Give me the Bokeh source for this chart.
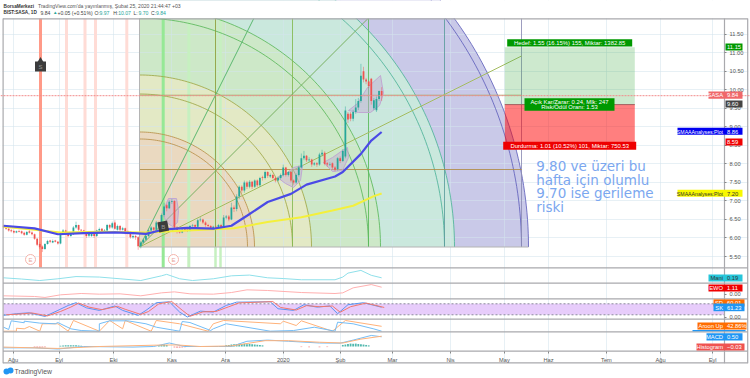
from bokeh.plotting import figure
from bokeh.models import Range1d, FixedTicker, Span
from bokeh.core.properties import value
from bokeh.embed import file_html
from bokeh.resources import INLINE
import numpy as np

# ---- price data ----
opens = [6.33,6.29,6.25,6.21,6.19,6.15,6.19,6.18,6.14,6.09,
 6.18,6.15,6.10,5.98,5.84,5.77,5.70,5.84,5.93,5.88,
 5.93,5.90,5.85,6.13,6.20,6.13,6.05,6.10,6.28,6.35,
 6.22,6.20,6.15,6.06,6.05,6.14,6.05,6.20,6.25,6.18,
 6.20,6.35,6.28,6.42,6.22,6.32,6.22,6.26,6.18,6.15,
 6.02,6.05,6.02,5.78,5.88,5.95,6.05,6.20,6.28,6.22,
 6.42,6.36,6.62,6.88,6.80,6.98,7.00,6.28,6.18,6.15,
 6.24,6.22,6.20,6.32,6.35,6.30,6.48,6.50,6.42,6.35,
 6.32,6.25,6.30,6.27,6.35,6.27,6.55,6.58,6.50,6.82,
 6.78,7.12,7.38,7.28,7.50,7.38,7.52,7.38,7.55,7.42,
 7.64,7.62,7.78,7.66,7.70,7.62,7.55,7.62,7.70,7.90,
 7.70,7.78,7.55,7.50,7.70,7.90,8.15,8.22,8.10,8.12,
 7.98,8.02,7.98,8.25,8.30,8.02,7.98,8.02,7.90,7.86,
 8.15,8.08,8.20,9.35,9.35,9.22,9.40,9.52,9.70,10.50,
 10.28,10.22,10.30,9.50,9.45,9.75,9.97]
closes = [6.29,6.25,6.20,6.18,6.15,6.18,6.17,6.13,6.09,6.16,
 6.14,6.10,5.98,5.82,5.75,5.70,5.84,5.92,5.90,5.92,
 5.90,5.85,6.12,6.20,6.12,6.05,6.10,6.28,6.35,6.22,
 6.20,6.15,6.05,6.12,6.13,6.05,6.20,6.24,6.18,6.20,
 6.35,6.28,6.40,6.25,6.32,6.22,6.26,6.15,6.15,6.02,
 6.05,6.02,5.78,5.88,5.95,6.05,6.20,6.28,6.22,6.42,
 6.36,6.62,6.85,6.80,6.98,7.00,6.28,6.18,6.15,6.22,
 6.22,6.20,6.32,6.34,6.30,6.48,6.50,6.42,6.35,6.32,
 6.25,6.30,6.27,6.35,6.27,6.55,6.58,6.50,6.82,6.78,
 7.12,7.38,7.28,7.50,7.38,7.52,7.38,7.55,7.42,7.62,
 7.62,7.78,7.68,7.70,7.62,7.55,7.62,7.70,7.90,7.70,
 7.78,7.55,7.50,7.70,7.90,8.15,8.22,8.10,8.12,7.98,
 8.02,7.98,8.25,8.30,8.00,7.98,8.00,7.90,7.84,8.15,
 8.08,8.35,9.44,9.20,9.22,9.40,9.52,9.70,10.38,10.28,
 10.22,10.10,9.70,9.72,9.75,9.97,9.84]
highs = [6.35,6.32,6.27,6.24,6.22,6.20,6.22,6.20,6.17,6.19,
 6.24,6.18,6.12,6.00,5.88,5.80,5.86,5.95,5.95,5.96,
 5.95,5.92,6.15,6.24,6.22,6.15,6.14,6.32,6.44,6.36,
 6.24,6.22,6.18,6.15,6.18,6.16,6.22,6.28,6.27,6.24,
 6.38,6.38,6.44,6.48,6.36,6.35,6.30,6.28,6.20,6.18,
 6.10,6.08,6.05,5.92,5.98,6.08,6.23,6.32,6.30,6.46,
 6.45,6.66,6.95,6.92,7.02,7.05,7.02,6.32,6.22,6.26,
 6.28,6.25,6.35,6.38,6.37,6.52,6.56,6.52,6.45,6.38,
 6.35,6.33,6.33,6.38,6.38,6.62,6.62,6.62,6.95,6.88,
 7.18,7.42,7.42,7.55,7.54,7.56,7.54,7.58,7.58,7.65,
 7.68,7.82,7.80,7.74,7.73,7.65,7.66,7.74,7.98,7.92,
 7.80,7.80,7.58,7.74,7.95,8.28,8.35,8.24,8.18,8.14,
 8.05,8.05,8.30,8.38,8.34,8.05,8.04,8.04,7.94,8.18,
 8.20,8.40,9.55,9.40,9.40,9.46,9.75,9.78,10.70,10.62,
 10.32,10.25,10.32,9.78,9.82,9.98,10.07]
lows = [6.26,6.22,6.17,6.15,6.12,6.13,6.15,6.10,6.06,6.07,
 6.12,6.07,5.95,5.78,5.70,5.62,5.68,5.82,5.86,5.86,
 5.88,5.82,5.83,6.10,6.08,6.02,6.03,6.08,6.25,6.18,
 6.18,6.12,6.00,6.02,6.03,6.00,6.03,6.18,6.15,6.16,
 6.18,6.24,6.25,6.22,6.20,6.18,6.20,6.10,6.10,5.98,
 5.98,5.95,5.68,5.72,5.85,5.92,6.03,6.18,6.18,6.20,
 6.32,6.33,6.58,6.72,6.78,6.92,6.24,6.12,6.12,6.13,
 6.18,6.16,6.18,6.30,6.26,6.28,6.44,6.38,6.30,6.28,
 6.22,6.23,6.24,6.25,6.24,6.25,6.50,6.45,6.48,6.70,
 6.72,7.05,7.22,7.22,7.32,7.34,7.32,7.35,7.38,7.38,
 7.55,7.58,7.62,7.62,7.58,7.50,7.52,7.58,7.66,7.66,
 7.66,7.50,7.44,7.46,7.66,7.88,8.10,8.05,8.05,7.92,
 7.95,7.92,7.95,8.20,7.96,7.92,7.94,7.85,7.80,7.82,
 8.02,8.05,8.15,9.10,9.15,9.15,9.35,9.45,9.65,10.20,
 10.15,10.05,9.60,9.45,9.40,9.70,9.70]

sma_fast_i = [0,12,21,31,43,50,55,62,71,81,88,94,102,111,117,128,131,138,142,146]
sma_fast_v = [6.33,6.26,6.10,6.13,6.15,6.13,6.11,6.23,6.27,6.25,6.33,6.60,6.97,7.19,7.44,7.66,7.78,8.27,8.63,8.86]
sma_slow_i = [0,12,22,37,55,71,89,102,115,127,135,143,146]
sma_slow_v = [6.30,6.22,6.15,6.17,6.15,6.20,6.26,6.43,6.56,6.74,6.87,7.13,7.20]

mani_i = [0,7,14,21,28,37,45,53,61,63,68,73,81,88,95,102,108,115,128,131,133,138,142,146]
mani_v = [0.19,0.14,0.08,0.15,0.24,0.22,0.15,0.08,0.27,0.33,0.15,0.08,0.15,0.27,0.30,0.19,0.16,0.11,0.11,0.22,0.38,0.49,0.29,0.19]
ewo_i = [0,12,16,22,30,37,45,53,61,66,72,81,88,94,102,115,128,131,135,142,146]
ewo_v = [-0.20,-0.30,-0.45,-0.05,0.15,0.05,0.10,-0.20,0.25,0.40,0.10,0.05,0.30,0.71,0.61,0.30,0.15,0.25,1.01,1.51,1.11]
sk_i = [0,5,10,16,21,25,28,32,37,43,46,52,55,59,64,68,71,76,81,86,90,103,106,112,116,121,126,129,133,139,146]
sk_v = [17,26,31,11,44,71,86,58,44,68,44,17,44,86,91,35,8,40,35,71,89,91,53,44,75,62,68,26,75,86,61.23]
sd_v = [20,24,30,14,38,62,84,62,48,66,50,22,38,80,92,45,12,36,38,64,85,92,60,46,70,64,68,34,64,84,60]
aroon_up_i = [0,5,5,8,10,14,15,21,25,27,37,41,46,47,57,59,68,79,81,85,107,108,113,115,127,132,146]
aroon_up_v = [0,0,26,21,41,0,65,65,0,94,0,94,21,94,0,94,65,0,65,94,65,88,50,91,0,94,42.86]
aroon_dn_i = [0,2,3,8,8,14,20,21,26,30,37,37,41,48,55,59,68,69,72,80,81,86,103,112,120,128,129,135,143,146]
aroon_dn_v = [35,15,91,74,88,71,65,76,21,6,0,65,91,91,65,35,0,85,76,6,21,65,0,6,35,0,79,65,20,0]
macd_i = [0,12,21,31,50,58,64,70,83,88,94,102,110,122,130,135,142,146]
macd_v = [-0.07,-0.07,-0.13,0,-0.03,0,0.18,0,0,0,0.27,0.33,0.27,0.18,0.17,0.33,0.57,0.50]
signal_i = [0,21,37,59,67,76,88,101,110,122,131,138,146]
signal_v = [-0.03,-0.10,0,0.07,0.08,0,0.03,0.30,0.30,0.22,0.18,0.38,0.53]
hist_up_i = [22,23,24,25,26,27,28,29,30,60,61,62,63,86,87,88,89,90,91,92,93,94,95,96,97,98,99,100,131,132,133,134,135,136,137,138,139,140,141]
hist_up_v = [0.04,0.05,0.06,0.07,0.07,0.06,0.06,0.05,0.04,0.06,0.08,0.10,0.08,0.06,0.08,0.10,0.12,0.13,0.14,0.13,0.14,0.12,0.13,0.11,0.10,0.09,0.08,0.06,0.08,0.10,0.13,0.15,0.14,0.15,0.13,0.12,0.10,0.08,0.06]
hist_dn_i = [12,13,14,15,16,66,67,68,69,70,115,118,122,125]
hist_dn_v = [-0.05,-0.06,-0.06,-0.05,-0.04,-0.05,-0.07,-0.06,-0.05,-0.04,-0.03,-0.04,-0.04,-0.03]

price_ticks = [5.5,6.0,6.5,7.0,7.5,8.0,8.5,9.0,9.5,10.0,10.5,11.0,11.5]
zero_ticks = [4.475, 3.854]
month_labels = ["Ağu","Eyl","Eki","Kas","Ara","2020","Şub","Mar","Nis","May","Haz","Tem","Ağu","Eyl"]
month_pos = [3.67,21.5,42.5,65.0,85.7,108.0,130.1,150.2,172.6,193.4,210.4,232.8,253.7,273.8]

last_close, target_price, entry_price, stop_price = 9.84, 11.15, 9.60, 8.59

# ---- geometry of the page ----
FW, FH = 750, 378
BAR0, BARW = 3.0, 2.59

def anchored(v1, y1, v2, y2):
    k = (v2 - v1) / (y2 - y1)
    return Range1d(start=v1 + k * (FH - y1), end=v1 + k * (0 - y1))
def bar_at(px):
    return (px - BAR0) / BARW
def price_at(py):
    return 11.5 - (py - 33.7) * 6.0 / (256.0 - 33.7)

p = figure(width=FW, height=FH, output_backend="svg", toolbar_location=None,
           x_range=Range1d(bar_at(0), bar_at(FW)),
           y_range=anchored(11.5, 33.7, 5.5, 256.0),
           y_axis_location="right", min_border=0)
p.outline_line_color = None
p.background_fill_color = "white"
p.extra_x_ranges = {"px": Range1d(0, FW)}
p.extra_y_ranges = {
    "py": Range1d(FH, 0),
    "mani": anchored(0.19, 277.3, 0.0, 282.0),
    "ewo": anchored(1.11, 286.7, 0.0, 294.0),
    "stoch": anchored(80, 303.3, 20, 314.3),
    "aroon": anchored(0, 330.7, 100, 319.3),
    "macd": anchored(0.5, 336.3, 0.0, 346.0),
}
PX = dict(x_range_name="px", y_range_name="py")

# axes and grid
ay = p.yaxis[0]
ay.fixed_location = bar_at(724)
ay.ticker = FixedTicker(ticks=price_ticks + zero_ticks)
ovr = {t: f"{t:.2f}" for t in price_ticks}
ovr.update({t: "0.00" for t in zero_ticks})
ay.major_label_overrides = ovr
ay.axis_line_color = None; ay.major_tick_line_color = "#888888"
ay.major_tick_out = 2; ay.major_tick_in = 0; ay.minor_tick_line_color = None
ay.major_label_text_font_size = "5.7px"; ay.major_label_text_color = "#555555"
ay.major_label_standoff = 3; ay.major_label_text_font = "Liberation Sans"
ax = p.xaxis[0]
ax.fixed_location = price_at(351)
ax.ticker = FixedTicker(ticks=month_pos)
ax.major_label_overrides = dict(zip(month_pos, month_labels))
ax.axis_line_color = None; ax.major_tick_line_color = "#888888"
ax.major_tick_out = 2; ax.major_tick_in = 0; ax.minor_tick_line_color = None
ax.major_label_text_font_size = "5.7px"; ax.major_label_text_color = "#555555"
ax.major_label_standoff = 3; ax.major_label_text_font = "Liberation Sans"
p.ygrid[0].ticker = FixedTicker(ticks=price_ticks)
p.xgrid[0].ticker = FixedTicker(ticks=month_pos)
p.grid.grid_line_color = "#d4e3ec"; p.grid.grid_line_alpha = 0.55; p.grid.grid_line_width = 1

# Gann / fib arcs, centred on the lower left corner of the box
CX, CY, BX = 139.0, 246.5, 521.0
th = np.linspace(0, np.pi / 2, 90)
def arc(r):
    return CX + r * np.cos(th), CY - r * np.sin(th)
bands = [(389, "#c9c9e8"), (315, "#cae8dd"), (241, "#cde8c8"), (172, "#e3e9c5"), (115, "#ead9c0")]
for r, col in bands:
    xx, yy = arc(r)
    p.patch(list(xx) + [CX], list(yy) + [CY], fill_color=col, line_color=None, level="image", **PX)

# vertical signal strips
for x, col, w in [(40, "#ff9a88", 3), (66, "#ffdcd6", 3), (84.5, "#ffdcd6", 3), (95, "#ffdcd6", 3),
                  (126.3, "#ffdcd6", 3), (162.7, "#96e896", 3), (188.3, "#c6f0c0", 3),
                  (215, "#c6f0c0", 2.5), (220, "#c6f0c0", 2.5)]:
    p.segment(x, 18, x, 267, line_color=col, line_width=w, **PX)

for r, col in [(108, "#b8904a"), (115, "#b8904a"), (153, "#a0a848"), (172, "#a0a848"),
               (229, "#5cb85c"), (241, "#5cb85c"), (305, "#4fb39a"), (315, "#4fb39a"),
               (382, "#6262bc"), (389, "#6262bc")]:
    xx, yy = arc(r)
    p.line(xx, yy, line_color=col, line_width=1, line_alpha=0.85, **PX)
for x, col in [(215, "#90983c"), (292, "#84b850"), (368, "#58b858"), (444, "#5c9c9c"), (521, "#8c8cb4")]:
    p.segment(x, 18, x, CY, line_color=col, line_width=1, line_alpha=0.85, **PX)
for y, col in [(169, "#b08c44"), (94.7, "#a8a868")]:
    p.segment(CX, y, BX, y, line_color=col, line_width=1, line_alpha=0.85, **PX)
p.segment(CX, CY, 528, CY, line_color="#b4b4b4", line_width=1, **PX)
p.segment(CX, 18, CX, CY, line_color="#b4b4b4", line_width=1, **PX)
for slope, col in [(2.0, "#5cb870"), (1.0, "#78b060"), (0.5, "#a4bc60")]:
    xe = min(BX, CX + (CY - 18) / slope)
    p.segment(CX, CY, xe, CY - (xe - CX) * slope, line_color=col, line_width=1, **PX)

# position tool zones
tool_l, tool_r = bar_at(504.3), bar_at(634.3)
p.quad(left=tool_l, right=tool_r, top=target_price, bottom=entry_price, fill_color="#4caf50", fill_alpha=0.28, line_color=None)
p.quad(left=tool_l, right=tool_r, top=entry_price, bottom=stop_price, fill_color="#ff0000", fill_alpha=0.5, line_color=None)
p.segment(tool_l, entry_price, tool_r, entry_price, line_color="#a06060", line_width=1)

# lilac bowls
for xs, ys in [([168, 176, 178, 177, 172, 166, 162], [198, 198, 210, 222, 226, 222, 212]),
               ([302, 300, 293, 285, 277, 287, 293], [165, 180, 187, 183, 177, 172, 167]),
               ([347, 348, 342, 332, 323, 332, 342], [147, 157, 170, 171, 162, 157, 150]),
               ([380, 383, 379, 370, 358, 348, 357, 367], [75, 93, 105, 112, 112, 110, 103, 87])]:
    p.patch(xs, ys, fill_color="#c0a8d2", fill_alpha=0.45, line_color="#c0a8d2", line_width=1, **PX)

# last price line
p.add_layout(Span(location=last_close, dimension="width", line_color="#f28a8a", line_width=1, line_dash="2 1"))

# candles
idx = np.arange(len(closes))
up = [c >= o for o, c in zip(opens, closes)]
cols = ["#26a69a" if u else "#ef5350" for u in up]
p.segment(idx, lows, idx, highs, line_color=cols, line_alpha=0.45, line_width=1)
p.vbar(x=idx, bottom=[min(o, c) for o, c in zip(opens, closes)], top=[max(o, c) for o, c in zip(opens, closes)],
       width=0.68, fill_color=cols, line_color=None)

p.line(sma_slow_i, sma_slow_v, line_color="#f4f03c", line_width=2)
p.line(sma_fast_i, sma_fast_v, line_color="#4a4ae6", line_width=2.2)

# markers
p.rect([40], [66], 11, 10, fill_color="#3c3c3c", line_color=None, **PX)
p.scatter([40], [61], marker="triangle", size=8, fill_color="#3c3c3c", line_color=None, **PX)
p.text([40], [66.5], ["S"], text_color="#9a9a9a", text_font_size="6px", text_align="center", text_baseline="middle", **PX)
p.rect([162.7], [226], 10, 10, fill_color="#3c3c3c", line_color=None, angle=0.2, **PX)
p.text([162.7], [226], ["B"], text_color="#9a9a9a", text_font_size="6px", text_align="center", text_baseline="middle", **PX)
for x in (30, 173):
    p.scatter([x], [259], marker="circle", size=10, fill_color="white", line_color="#f4b4ac", **PX)
    p.text([x], [259], ["E"], text_color="#e8a49c", text_font_size="6px", text_align="center", text_baseline="middle", **PX)

# big note
big_lines = ["9.80 ve üzeri bu", "hafta için olumlu", "9.70 ise gerileme", "riski"]
p.text([535.7] * 4, [165, 179, 192.7, 206], big_lines, text_color="#7ba7ef", text_font_size="13.5px",
       text_font=value("DejaVu Sans"), text_baseline="middle", **PX)

# sub panes
stoch_l, stoch_r = bar_at(3), bar_at(724)
p.quad(left=stoch_l, right=stoch_r, top=80, bottom=20, fill_color="#e7ccfb", line_color=None, y_range_name="stoch")
for lv in (80, 20):
    p.segment(stoch_l, lv, stoch_r, lv, line_color="#8a8a9a", line_width=1, line_dash="2 2", y_range_name="stoch")
p.line(mani_i, mani_v, line_color="#8fe0ea", line_width=1, y_range_name="mani")
p.line(ewo_i, ewo_v, line_color="#ffb0b0", line_width=1, y_range_name="ewo")
p.line(sk_i, sk_v, line_color="#5a96f2", line_width=1, y_range_name="stoch")
p.line([i + 1 for i in sk_i], sd_v, line_color="#f2786c", line_width=1, y_range_name="stoch")
p.line(aroon_up_i, aroon_up_v, line_color="#ffb27a", line_width=1, y_range_name="aroon")
p.line(aroon_dn_i, aroon_dn_v, line_color="#74bdf6", line_width=1, y_range_name="aroon")
p.vbar(x=hist_up_i, top=hist_up_v, bottom=0, width=0.7, fill_color="#26a69a", fill_alpha=0.8, line_color=None, y_range_name="macd")
p.vbar(x=hist_dn_i, top=0, bottom=hist_dn_v, width=0.7, fill_color="#ef5350", fill_alpha=0.6, line_color=None, y_range_name="macd")
p.line(macd_i, macd_v, line_color="#74bdf6", line_width=1, y_range_name="macd")
p.line(signal_i, signal_v, line_color="#ffb27a", line_width=1, y_range_name="macd")

# white page around the chart pane
def box(l, r, t, b, col, **kw):
    p.quad(left=l, right=r, top=t, bottom=b, fill_color=col, line_color=None, **PX, **kw)
box(0, FW, 0, 17.7, "white")
box(0, FW, 362.9, FH, "white")
box(0, 2, 0, FH, "white")
box(747.8, FW, 0, FH, "white")

def txt(x, y, t, col="#333333", size="5.8px", bold=False, font="Liberation Sans", align="left"):
    p.text([x], [y], [t], text_color=col, text_font_size=size, text_font=value(font), text_baseline="middle",
           text_align=align, text_font_style="bold" if bold else "normal", level="overlay", **PX)

H = "5.1px"
txt(3, 5.5, "BorsaMerkezi", bold=True, size="4.7px")
txt(37.5, 5.5, "TradingView.com'da yayınlanmış, Şubat 25, 2020 21:44:47 +03", col="#555555", size=H)
txt(3, 12, "BIST:SASA, 1D", bold=True, size="4.7px")
txt(40, 12, "9.84", col="#444444", size=H)
txt(52.5, 12, "▲", col="#26a69a", size="4.5px")
txt(57, 12, "+0.05 (+0.51%)", col="#444444", size=H)
for x, t, v in [(94, "O:", "9.97"), (112.7, "H:", "10.07"), (133, "L:", "9.70"), (150.5, "C:", "9.84")]:
    txt(x, 12, t, col="#444444", size=H)
    txt(x + 5, 12, v, col="#26a69a", size=H)

# frame lines
LINE = "#a9a9ad"
for y in (18.3, 267.3, 282.7, 298.3, 318.7, 331.3, 350.7, 362.3):
    p.segment(2.5, y, 747.3, y, line_color=LINE, line_width=1.2, **PX)
for x in (2.6, 724, 747.2):
    p.segment(x, 18, x, 362.8, line_color=LINE, line_width=1.2, **PX)

def tbox(l, r, t, b, col):
    p.quad(left=l, right=r, top=t, bottom=b, fill_color=col, line_color=None, level="overlay", **PX)

# position tool captions
C = "5.9px"
tbox(506.7, 631.7, 38.7, 46, "#009900")
txt(569.2, 42.5, "Hedef: 1.55 (16.15%) 155, Miktar: 1382.85", col="white", align="center", size=C)
tbox(524, 614, 97.7, 110.3, "#009900")
txt(569, 101, "Açık Kar/Zarar: 0.24, Mlk: 247", col="white", align="center", size=C)
txt(569, 106.5, "Risk/Ödül Oranı: 1.53", col="white", align="center", size=C)
tbox(502.7, 635.7, 141.3, 149.3, "#ee0000")
txt(569.2, 145.4, "Durdurma: 1.01 (10.52%) 101, Miktar: 750.53", col="white", align="center", size=C)

# right hand tags
def tag(l, r, t, b, col, text, val, tc="white", tsize="5.8px"):
    tbox(l, r, t, b, col)
    mid = (t + b) / 2 + 0.2
    if text:
        txt(722.5, mid, text, col=tc, align="right", size=tsize)
    if val:
        txt(726.5, mid, val, col=tc)

tag(725, 742, 43, 50, "#009900", "", "11.15")
tag(708, 742, 91, 98.3, "#f0686a", "SASA", "9.84")
tag(725, 742, 100, 107, "#444444", "", "9.60")
tag(677, 742, 127.3, 134.3, "#0000f0", "SMAAAnalyses:Plot", "8.86", tsize="5.2px")
tag(725, 742, 138, 145, "#f00000", "", "8.59")
tag(677, 742, 189.3, 196.3, "#f8f800", "SMAAAnalyses:Plot", "7.20", tc="#333333", tsize="5.2px")
tag(708, 742, 274, 281, "#26c6da", "Mani", "0.19", tc="#333333")
tag(708, 742, 284, 291, "#f00000", "EWO", "1.11")
tag(713, 744, 298.9, 306, "#ff6d00", "SD", "60.01")
tag(713, 744, 303, 310.7, "#2196f3", "SK", "61.23")
tag(697, 746, 322, 329, "#ff6d00", "Aroon Up", "42.86%")
tbox(692, 745, 329.4, 330.7, "#2196f3")
tag(706, 742, 332.7, 340, "#2196f3", "MACD", "0.50")
tag(696, 744, 343, 350, "#ef5350", "Histogram", "−0.03")

# logo
p.scatter([6], [371], marker="circle", size=6, fill_color="#2196f3", line_color=None, level="overlay", **PX)
p.scatter([10], [370], marker="circle", size=6, fill_color="#2196f3", line_color=None, level="overlay", **PX)
txt(14, 370.5, "TradingView", col="#555555", size="6.8px")

open("out.html", "w").write(file_html(p, INLINE))
